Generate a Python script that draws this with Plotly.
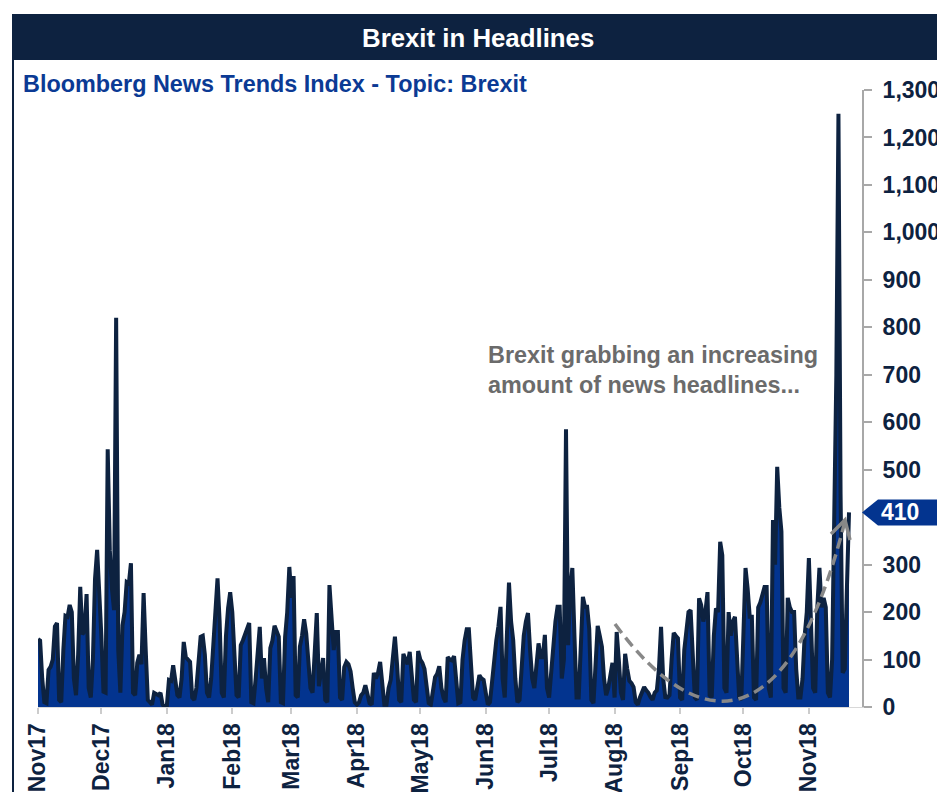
import pandas as pd
import plotly.graph_objects as go

# ---- data (daily Bloomberg News Trends Index, topic: Brexit) ----
start_date = "2017-11-01"
brexit_index = [
    143, 140, 60, 10, 8,                      # Nov 1-5 2017
    78, 85, 100, 170, 177, 15, 10,
    120, 192, 190, 215, 200, 60, 25,
    110, 253, 153, 160, 238, 40, 20,
    100, 270, 331, 250, 150, 32, 30,
    543, 330, 250, 204, 820, 120, 30,         # Dec 4-10
    172, 200, 263, 260, 303, 30, 25,
    93, 110, 90, 240, 120, 15, 10,
    5, 30, 28, 25, 30, 5, 0,
    2, 57, 55, 88, 60, 25, 20,                # Jan 1-7 2018
    60, 137, 105, 100, 95, 20, 15,
    40, 100, 148, 150, 110, 30, 20,
    60, 130, 200, 271, 180, 30, 20,
    150, 208, 242, 200, 116, 25, 20,
    130, 140, 152, 160, 177, 10, 8,
    57, 110, 169, 60, 103, 40, 10,
    124, 140, 171, 160, 148, 10, 8,
    148, 200, 295, 230, 276, 25, 20,
    127, 150, 185, 155, 100, 40, 30,
    120, 198, 44, 80, 103, 15, 10,
    257, 180, 120, 158, 158, 20, 15,
    84, 95, 90, 75, 40, 10, 5,
    10, 25, 30, 46, 30, 8, 5,                 # Apr 2-8
    72, 60, 72, 95, 50, 5, 5,
    40, 57, 100, 148, 90, 15, 10,
    112, 100, 90, 116, 60, 15, 10,
    118, 100, 93, 80, 40, 8, 5,
    30, 63, 70, 86, 40, 20, 10,
    105, 100, 98, 107, 50, 8, 10,
    100, 140, 164, 164, 80, 20, 15,
    40, 67, 60, 57, 30, 5, 10,
    60, 99, 140, 170, 211, 60, 20,            # Jun 4-10
    150, 262, 180, 141, 60, 10, 15,
    93, 150, 180, 198, 120, 60, 40,
    80, 134, 105, 105, 152, 40, 20,
    80, 127, 180, 211, 211, 60, 100,
    585, 130, 250, 293, 150, 20, 20,          # Jul 9-15
    150, 232, 211, 211, 165, 15, 8,
    100, 171, 150, 127, 60, 25, 40,
    67, 93, 20, 158, 100, 30, 15,
    112, 80, 55, 50, 42, 10, 5,
    20, 30, 42, 35, 30, 21, 15,
    30, 35, 80, 169, 60, 21, 20,
    25, 100, 156, 150, 145, 20, 15,
    120, 170, 200, 204, 90, 20, 15,           # Sep 3-9
    229, 215, 180, 200, 242, 25, 20,
    150, 208, 200, 348, 320, 40, 30,
    200, 150, 180, 190, 100, 20, 15,
    150, 293, 250, 190, 190, 20, 15,          # Oct 1-7
    210, 220, 236, 253, 253, 40, 20,
    394, 300, 506, 420, 370, 40, 30,
    230, 210, 200, 200, 80, 20, 20,
    60, 150, 200, 314, 170, 40, 30,
    210, 293, 210, 230, 210, 30, 20,          # Nov 5-11
    100, 450, 700, 1250, 450, 72, 80,
    250, 410,
]
month_labels = ["Nov17", "Dec17", "Jan18", "Feb18", "Mar18", "Apr18", "May18",
                "Jun18", "Jul18", "Aug18", "Sep18", "Oct18", "Nov18"]
y_ticks = [0, 100, 200, 300, 500, 600, 700, 800, 900, 1000, 1100, 1200, 1300]
last_value = brexit_index[-1]

dates = pd.date_range(start_date, periods=len(brexit_index), freq="D")
month_ticks = pd.date_range(start_date, periods=len(month_labels), freq="MS")

NAVY = "#0d2240"
BLUE = "#03348f"
FONT = "Arial, Liberation Sans, sans-serif"

# ---- layout geometry (pixels) ----
W, H = 937, 792
L, R, T, B = 38, 75, 90, 85
PW, PH = W - L - R, H - T - B


def px(x):
    return (x - L) / PW


def py(y):
    return (H - B - y) / PH


fig = go.Figure()
fig.add_trace(go.Scatter(
    x=dates, y=brexit_index, mode="lines",
    line=dict(color=NAVY, width=4),
    fill="tozeroy", fillcolor=BLUE, hoverinfo="x+y", showlegend=False,
))

shapes = []
# title bar
shapes.append(dict(type="rect", xref="paper", yref="paper",
                   x0=px(12), x1=px(W + 5), y0=py(60), y1=py(14),
                   fillcolor=NAVY, line=dict(width=0), layer="above"))
# left frame border
shapes.append(dict(type="line", xref="paper", yref="paper",
                   x0=px(13), x1=px(13), y0=py(14), y1=py(H + 5),
                   line=dict(color=NAVY, width=2)))
# dashed curved arrow
p0, c1, c2, p3 = (615, 624), (700, 740), (790, 740), (845, 521)
curve = "M {},{} C {},{} {},{} {},{}".format(
    px(p0[0]), py(p0[1]), px(c1[0]), py(c1[1]),
    px(c2[0]), py(c2[1]), px(p3[0]), py(p3[1]))
shapes.append(dict(type="path", xref="paper", yref="paper", path=curve,
                   line=dict(color="#888888", width=3.5, dash="11px,6px")))
head = "M {},{} L {},{} L {},{}".format(
    px(831), py(534), px(845), py(520), px(850), py(540))
shapes.append(dict(type="path", xref="paper", yref="paper", path=head,
                   line=dict(color="#888888", width=3.5)))
# last-value tag
tag_c = H - B - last_value * PH / 1300
tag = "M {},{} L {},{} L {},{} L {},{} L {},{} Z".format(
    px(862), py(tag_c),
    px(878), py(tag_c - 13),
    px(W + 5), py(tag_c - 13),
    px(W + 5), py(tag_c + 13),
    px(878), py(tag_c + 13))
shapes.append(dict(type="path", xref="paper", yref="paper", path=tag,
                   fillcolor=BLUE, line=dict(width=0)))

annotations = [
    dict(text="<b>Brexit in Headlines</b>", xref="paper", yref="paper",
         x=px(478), y=py(38), xanchor="center", yanchor="middle",
         showarrow=False, font=dict(family=FONT, size=25.8, color="white")),
    dict(text="<b>Bloomberg News Trends Index - Topic: Brexit</b>",
         xref="paper", yref="paper", x=px(21), y=py(84),
         xanchor="left", yanchor="middle", showarrow=False,
         font=dict(family=FONT, size=23.4, color="#0b3a94")),
    dict(text="<b>Brexit grabbing an increasing<br>amount of news headlines...</b>",
         xref="paper", yref="paper", x=px(486), y=py(340),
         xanchor="left", yanchor="top", align="left", showarrow=False,
         font=dict(family=FONT, size=23.4, color="#6b6b6b")),
    dict(text="<b>{}</b>".format(last_value), xref="paper", yref="paper",
         x=px(900), y=py(tag_c), xanchor="center", yanchor="middle",
         showarrow=False, font=dict(family=FONT, size=23, color="white")),
]

x_end = pd.Timestamp(start_date) + pd.Timedelta(days=PW / 2.112)

fig.update_layout(
    width=W, height=H, autosize=False,
    margin=dict(l=L, r=R, t=T, b=B, pad=0, autoexpand=False),
    paper_bgcolor="white", plot_bgcolor="white",
    shapes=shapes, annotations=annotations,
    xaxis=dict(
        range=[pd.Timestamp(start_date), x_end], automargin=False,
        tickvals=month_ticks, ticktext=month_labels, tickangle=-90,
        tickfont=dict(family=FONT, size=23, color=NAVY, weight="bold"),
        ticks="outside", ticklen=6, tickcolor="#cccccc", tickwidth=1.5,
        showline=True, linecolor="#d8d8d8", linewidth=1,
        showgrid=False, zeroline=False, fixedrange=True,
    ),
    yaxis=dict(
        range=[0, 1300], side="right", tickvals=y_ticks, tickformat=",d",
        automargin=False,
        tickfont=dict(family=FONT, size=23, color=NAVY, weight="bold"),
        ticks="outside", ticklen=8, tickcolor="#a8a8a8", tickwidth=1.5,
        showline=True, linecolor="#a8a8a8", linewidth=2,
        ticklabelstandoff=6,
        showgrid=False, zeroline=False, fixedrange=True,
    ),
)

fig.write_html("out.html")
